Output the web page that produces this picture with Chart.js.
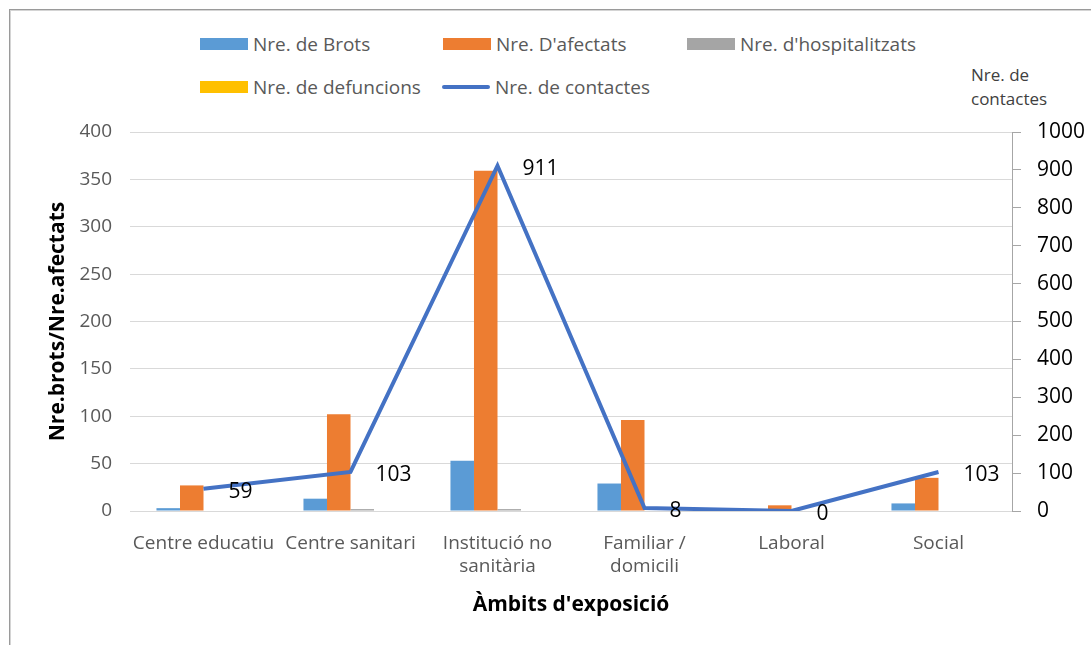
<!DOCTYPE html>
<html>
<head>
<meta charset="utf-8">
<script src="https://cdn.jsdelivr.net/npm/chart.js@4.4.1/dist/chart.umd.min.js"></script>
<style>
  body { margin: 0; background: #fff; font-family: "Open Sans", sans-serif; }
  #wrap { position: relative; width: 1091px; height: 645px; overflow: hidden; }
  #frame { position: absolute; left: 9px; top: 9px; width: 1100px; height: 660px;
           border-left: 1px solid #9a9a9a; border-top: 1px solid #9a9a9a;
           box-shadow: inset 1px 1px 0 #d4d4d4; }
  .leg { position: absolute; display: flex; align-items: center; font-size: 19px; color: #595959; white-space: nowrap; }
  .sw { width: 48px; height: 12px; margin-right: 5px; flex: none; }
  .sw.line { height: 4px; border-radius: 2px; }
  #y1title { position: absolute; left: 971px; top: 63px; font-size: 17px; line-height: 24px; color: #404040; }
  canvas { position: absolute; left: 0; top: 0; }
</style>
</head>
<body>
<div id="wrap">
  <div id="frame"></div>
  <div id="legend"></div>
  <div id="y1title">Nre. de<br>contactes</div>
  <canvas id="chart" width="1091" height="645"></canvas>
</div>
<script>
// categories and series
const ambits = ["Centre educatiu", "Centre sanitari", ["Institució no", "sanitària"], ["Familiar /", "domicili"], "Laboral", "Social"];
const brots = [3, 13, 53, 29, 0, 8];
const afectats = [27, 102, 359, 96, 6, 35];
const hospitalitzats = [0, 2, 2, 0, 0, 0];
const defuncions = [0, 0, 0, 0, 0, 0];
const contactes = [59, 103, 911, 8, 0, 103];

const color = {
  brots: "#5B9BD5",
  afectats: "#ED7D31",
  hosp: "#A5A5A5",
  defuncions: "#FFC000",
  contactes: "#4472C4"
};

// html legend, Excel style (rows aligned left)
const legendItems = [
  { label: "Nre. de Brots", color: color.brots, x: 200, y: 44 },
  { label: "Nre. D'afectats", color: color.afectats, x: 443, y: 44 },
  { label: "Nre. d'hospitalitzats", color: color.hosp, x: 687, y: 44 },
  { label: "Nre. de defuncions", color: color.defuncions, x: 200, y: 87 },
  { label: "Nre. de contactes", color: color.contactes, x: 442, y: 87, line: true }
];
const legendEl = document.getElementById("legend");
legendItems.forEach(function (it) {
  const d = document.createElement("div");
  d.className = "leg";
  d.style.left = it.x + "px";
  d.style.top = (it.y - 13) + "px";
  d.style.height = "26px";
  d.innerHTML = '<span class="sw' + (it.line ? " line" : "") + '" style="background:' + it.color + '"></span>' + it.label;
  legendEl.appendChild(d);
});

// value labels next to the line points
const lineLabels = {
  id: "lineLabels",
  afterDatasetsDraw(chart) {
    const ctx = chart.ctx;
    const meta = chart.getDatasetMeta(4);
    ctx.save();
    ctx.font = '21px "Open Sans"';
    ctx.fillStyle = "#000";
    ctx.textAlign = "left";
    ctx.textBaseline = "middle";
    meta.data.forEach(function (pt, i) {
      ctx.fillText(String(contactes[i]), pt.x + 25, pt.y + 3);
    });
    ctx.restore();
  }
};

const gridColor = "#d9d9d9";

new Chart(document.getElementById("chart").getContext("2d"), {
  type: "bar",
  data: {
    labels: ambits,
    datasets: [
      { label: "Nre. de Brots", data: brots, backgroundColor: color.brots, yAxisID: "y", order: 1 },
      { label: "Nre. D'afectats", data: afectats, backgroundColor: color.afectats, yAxisID: "y", order: 1 },
      { label: "Nre. d'hospitalitzats", data: hospitalitzats, backgroundColor: color.hosp, yAxisID: "y", order: 1 },
      { label: "Nre. de defuncions", data: defuncions, backgroundColor: color.defuncions, yAxisID: "y", order: 1 },
      {
        label: "Nre. de contactes",
        data: contactes,
        type: "line",
        yAxisID: "y1",
        borderColor: color.contactes,
        borderWidth: 4,
        pointRadius: 0,
        tension: 0,
        fill: false,
        order: 0
      }
    ]
  },
  options: {
    responsive: false,
    animation: false,
    events: [],
    layout: { padding: { left: 40, right: 0, top: 132, bottom: 0 } },
    datasets: { bar: { categoryPercentage: 0.64, barPercentage: 1 } },
    plugins: {
      legend: { display: false },
      tooltip: { enabled: false }
    },
    scales: {
      x: {
        grid: { display: false },
        border: { display: true, color: gridColor },
        ticks: {
          autoSkip: false,
          maxRotation: 0,
          padding: 13,
          color: "#595959",
          font: { family: "Open Sans", size: 19, lineHeight: 1.2 }
        },
        title: {
          display: true,
          text: "Àmbits d'exposició",
          color: "#000",
          font: { family: "Open Sans", size: 21, weight: "bold" },
          padding: { top: 0, bottom: 27 }
        },
        afterFit(scale) { scale.height = 134; }
      },
      y: {
        position: "left",
        min: 0,
        max: 400,
        ticks: {
          stepSize: 50,
          padding: 18,
          color: "#595959",
          font: { family: "Open Sans", size: 19 }
        },
        grid: { color: gridColor, drawTicks: false },
        border: { display: false },
        title: {
          display: true,
          text: "Nre.brots/Nre.afectats",
          color: "#000",
          font: { family: "Open Sans", size: 21, weight: "bold" },
          padding: { top: 5, bottom: 0 }
        },
        afterFit(scale) { scale.width = 90; }
      },
      y1: {
        position: "right",
        min: 0,
        max: 1000,
        ticks: {
          stepSize: 100,
          padding: 16,
          color: "#000",
          font: { family: "Open Sans", size: 21 },
          callback: function (v) { return String(v); }
        },
        grid: { drawOnChartArea: false, drawTicks: true, tickLength: 9, color: "#a6a6a6" },
        border: { display: true, color: "#a6a6a6" },
        afterFit(scale) { scale.width = 79; }
      }
    }
  },
  plugins: [lineLabels]
});
</script>
</body>
</html>
